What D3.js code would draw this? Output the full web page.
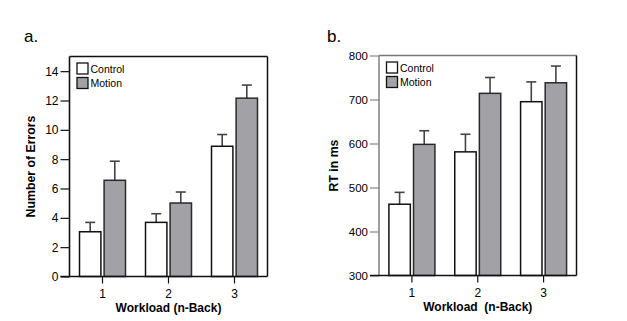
<!DOCTYPE html>
<html>
<head>
<meta charset="utf-8">
<script src="https://cdn.jsdelivr.net/npm/d3@7"></script>
<style>
body { margin:0; background:#fff; }
svg text { font-family: "Liberation Sans", Arial, sans-serif; fill:#000; }
</style>
</head>
<body>
<svg id="chart" width="627" height="321"></svg>
<script>
// data
var workloads = ["1", "2", "3"];
var seriesNames = ["Control", "Motion"];

var errControl = [3.05, 3.69, 8.88];
var errControlSE = [0.64, 0.59, 0.80];
var errMotion = [6.56, 5.01, 12.16];
var errMotionSE = [1.30, 0.75, 0.89];
var errTicks = [0, 2, 4, 6, 8, 10, 12, 14];

var rtControl = [462, 581, 695];
var rtControlSE = [27, 40, 45];
var rtMotion = [598, 714, 738];
var rtMotionSE = [31, 36, 38];
var rtTicks = [300, 400, 500, 600, 700, 800];

var svg = d3.select("#chart");
var fills = {Control: "#ffffff", Motion: "#a2a2a6"};
var strokes = {Control: "#111", Motion: "#2a2a2a"};

function drawPanel(opt){
	var g = svg.append("g");
	var x = d3.scaleBand().domain(workloads).range([opt.left, opt.right]).paddingInner(0.0).paddingOuter(0.0);
	var y = d3.scaleLinear().domain(opt.domain).range([opt.bottom, opt.top]);
	var sub = d3.scaleBand().domain(seriesNames).range([0, 46]).paddingInner(0.13);

	var rows = [];
	workloads.forEach(function(w, i){
		rows.push({w:w, s:"Control", v:opt.control[i], e:opt.controlSE[i]});
		rows.push({w:w, s:"Motion", v:opt.motion[i], e:opt.motionSE[i]});
	});
	function bx(d){ return x(d.w) + x.bandwidth()/2 - 23 + sub(d.s); }

	// error bars (behind bars)
	g.selectAll(".err").data(rows).enter().append("line")
		.attr("x1", function(d){ return bx(d) + sub.bandwidth()/2; })
		.attr("x2", function(d){ return bx(d) + sub.bandwidth()/2; })
		.attr("y1", function(d){ return y(d.v); })
		.attr("y2", function(d){ return y(d.v + d.e); })
		.attr("stroke", "#444").attr("stroke-width", 1.6);
	g.selectAll(".cap").data(rows).enter().append("line")
		.attr("x1", function(d){ return bx(d) + sub.bandwidth()/2 - 5; })
		.attr("x2", function(d){ return bx(d) + sub.bandwidth()/2 + 5; })
		.attr("y1", function(d){ return y(d.v + d.e); })
		.attr("y2", function(d){ return y(d.v + d.e); })
		.attr("stroke", "#444").attr("stroke-width", 1.6);

	// bars
	g.selectAll(".bar").data(rows).enter().append("rect")
		.attr("x", bx)
		.attr("y", function(d){ return y(d.v); })
		.attr("width", sub.bandwidth())
		.attr("height", function(d){ return y(opt.domain[0]) - y(d.v); })
		.attr("fill", function(d){ return fills[d.s]; })
		.attr("stroke", function(d){ return strokes[d.s]; })
		.attr("stroke-width", 1.5);

	// frame
	g.append("line").attr("x1", opt.left).attr("x2", opt.right).attr("y1", opt.top).attr("y2", opt.top)
		.attr("stroke", opt.topColor).attr("stroke-width", 1.3);
	g.append("line").attr("x1", opt.right).attr("x2", opt.right).attr("y1", opt.top).attr("y2", opt.bottom)
		.attr("stroke", "#111").attr("stroke-width", 1.5);
	g.append("line").attr("x1", opt.left).attr("x2", opt.left).attr("y1", opt.top).attr("y2", opt.bottom)
		.attr("stroke", opt.leftColor).attr("stroke-width", 1.6);

	// y axis
	var yAxis = g.append("g").attr("transform", "translate(" + opt.left + ",0)")
		.call(d3.axisLeft(y).tickValues(opt.ticks).tickSize(9).tickPadding(2));
	yAxis.select(".domain").remove();
	yAxis.selectAll(".tick line").attr("stroke", opt.leftColor).attr("stroke-width", 1.2);
	yAxis.selectAll(".tick text").style("font-size", opt.tickFont).attr("fill", "#000");

	// x axis
	var xAxis = g.append("g").attr("transform", "translate(0," + opt.bottom + ")")
		.call(d3.axisBottom(x).tickSize(7).tickPadding(6));
	xAxis.select(".domain").attr("stroke", "#111").attr("stroke-width", 1.5)
		.attr("d", "M" + (opt.left - 9) + ",0H" + opt.right);
	xAxis.selectAll(".tick line").attr("stroke", "#111").attr("stroke-width", 1.2);
	xAxis.selectAll(".tick text").style("font-size", "12px").attr("fill", "#000");

	// titles
	g.append("text").attr("x", (opt.left + opt.right)/2).attr("y", opt.bottom + 35)
		.attr("text-anchor", "middle").style("font-size", "12px").attr("font-weight", "bold")
		.style("white-space", "pre").text(opt.xTitle);
	g.append("text").attr("transform", "translate(" + opt.yTitleX + "," + (opt.top + opt.bottom)/2 + ") rotate(-90)")
		.attr("text-anchor", "middle").style("font-size", "12.3px").attr("font-weight", "bold").text(opt.yTitle);
	g.append("text").attr("x", opt.labelX).attr("y", 42).style("font-size", "17px").text(opt.label);

	// legend
	seriesNames.forEach(function(s, i){
		g.append("rect").attr("x", opt.left + 7.5).attr("y", opt.top + 6.5 + i*14.5)
			.attr("width", 11).attr("height", 11)
			.attr("fill", fills[s]).attr("stroke", "#111").attr("stroke-width", 1.3);
		g.append("text").attr("x", opt.left + 21).attr("y", opt.top + 16 + i*14.5)
			.style("font-size", "10.5px").text(s);
	});
}

drawPanel({left:69.5, right:267.5, top:56.5, bottom:276.5, domain:[0, 15], ticks:errTicks,
	control:errControl, controlSE:errControlSE, motion:errMotion, motionSE:errMotionSE,
	xTitle:"Workload (n-Back)", yTitle:"Number of Errors", yTitleX:35, label:"a.", labelX:24,
	topColor:"#111", leftColor:"#111", tickFont:"12px"});

drawPanel({left:379, right:576.5, top:55.5, bottom:275.5, domain:[300, 800], ticks:rtTicks,
	control:rtControl, controlSE:rtControlSE, motion:rtMotion, motionSE:rtMotionSE,
	xTitle:"Workload  (n-Back)", yTitle:"RT in ms", yTitleX:338, label:"b.", labelX:327,
	topColor:"#777", leftColor:"#888", tickFont:"11.5px"});
</script>
</body>
</html>
